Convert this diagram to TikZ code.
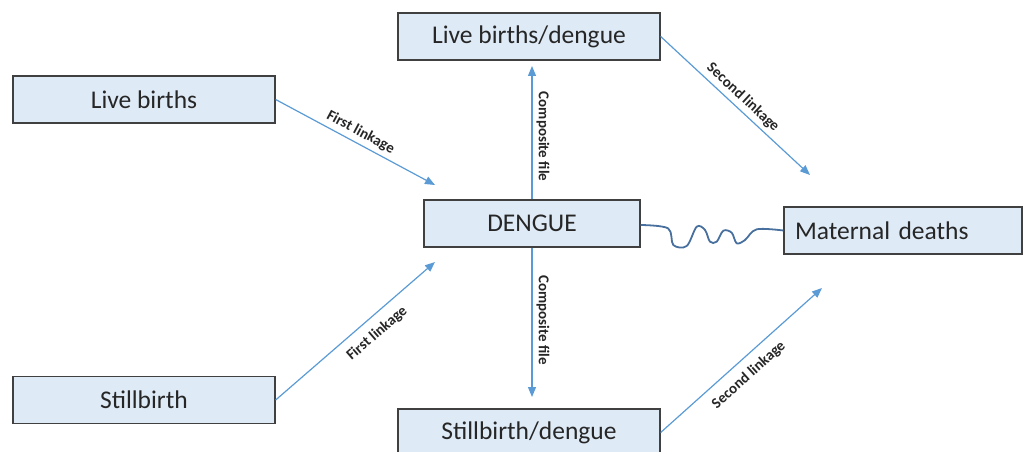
\documentclass[tikz,border=0pt]{standalone}
\usepackage{fontspec}
\setmainfont{Carlito}
\usepackage{xcolor}
\usetikzlibrary{arrows.meta}
\definecolor{boxfill}{RGB}{222,234,246}
\definecolor{boxline}{RGB}{64,64,64}
\definecolor{linkblue}{RGB}{91,155,213}
\definecolor{wavyblue}{RGB}{72,112,158}
\begin{document}
\begin{tikzpicture}[x=1pt, y=-1pt, >={Triangle[length=10pt,width=8pt]},
  box/.style={draw=boxline, line width=1.3pt, fill=boxfill, minimum height=47pt, inner sep=0pt,
    font=\fontsize{25.5}{30}\selectfont, text=black!85},
  link/.style={->, draw=linkblue, line width=1.2pt},
  lbl/.style={font=\fontsize{15}{18}\selectfont\bfseries, text=black!85, inner sep=4pt}]
		\useasboundingbox (0,0) rectangle (1029,452);
		\node[box, minimum width=262pt] (lb) at (144,99.5) {Live births};
		\node[box, minimum width=262pt] (sb) at (144,400) {Stillbirth};
		\node[box, minimum width=216pt] (dengue) at (532,223.5) {DENGUE};
		\node[box, minimum width=262pt] (lbd) at (529,36.5) {Live births/dengue};
		\node[box, minimum width=262pt] (sbd) at (529,432.5) {Stillbirth/dengue};
		\node[box, text width=216pt, align=left, inner xsep=11pt] (md) at (903,230.5) {Maternal deaths};
		\coordinate (t1) at (435,185);
		\coordinate (t2) at (435,262);
		\coordinate (t3) at (532,66);
		\coordinate (t4) at (532,397);
		\coordinate (t5) at (810,175);
		\coordinate (t6) at (822,288);
		\draw[link] (lb.east) -- (t1) node[lbl, midway, sloped, above] {First linkage};
		\draw[link] (sb.east) -- (t2) node[lbl, pos=0.57, sloped, below, yshift=-5pt] {First linkage};
		\draw[link] (dengue.north) -- (t3) node[lbl, midway, rotate=-90, above, xshift=4pt] {Composite file};
		\draw[link] (dengue.south) -- (t4) node[lbl, pos=0.46, rotate=-90, above, xshift=4pt] {Composite file};
		\draw[link] (lbd.east) -- (t5) node[lbl, midway, sloped, above] {Second linkage};
		\draw[link] (sbd.east) -- (t6) node[lbl, pos=0.48, sloped, below, yshift=-5pt] {Second linkage};
		\draw[wavyblue, line width=1.8pt] plot[smooth, tension=0.55] coordinates {([yshift=-1.5pt]dengue.east) (668,228.3) (673.3,245) (686.7,246) (696.7,226.7) (705,230) (710,241.7) (716.7,241.7) (723.3,230.7) (731.7,232.7) (736.7,243.3) (745,240) (756.7,229.3) (md.west)};
	\end{tikzpicture}
\end{document}
